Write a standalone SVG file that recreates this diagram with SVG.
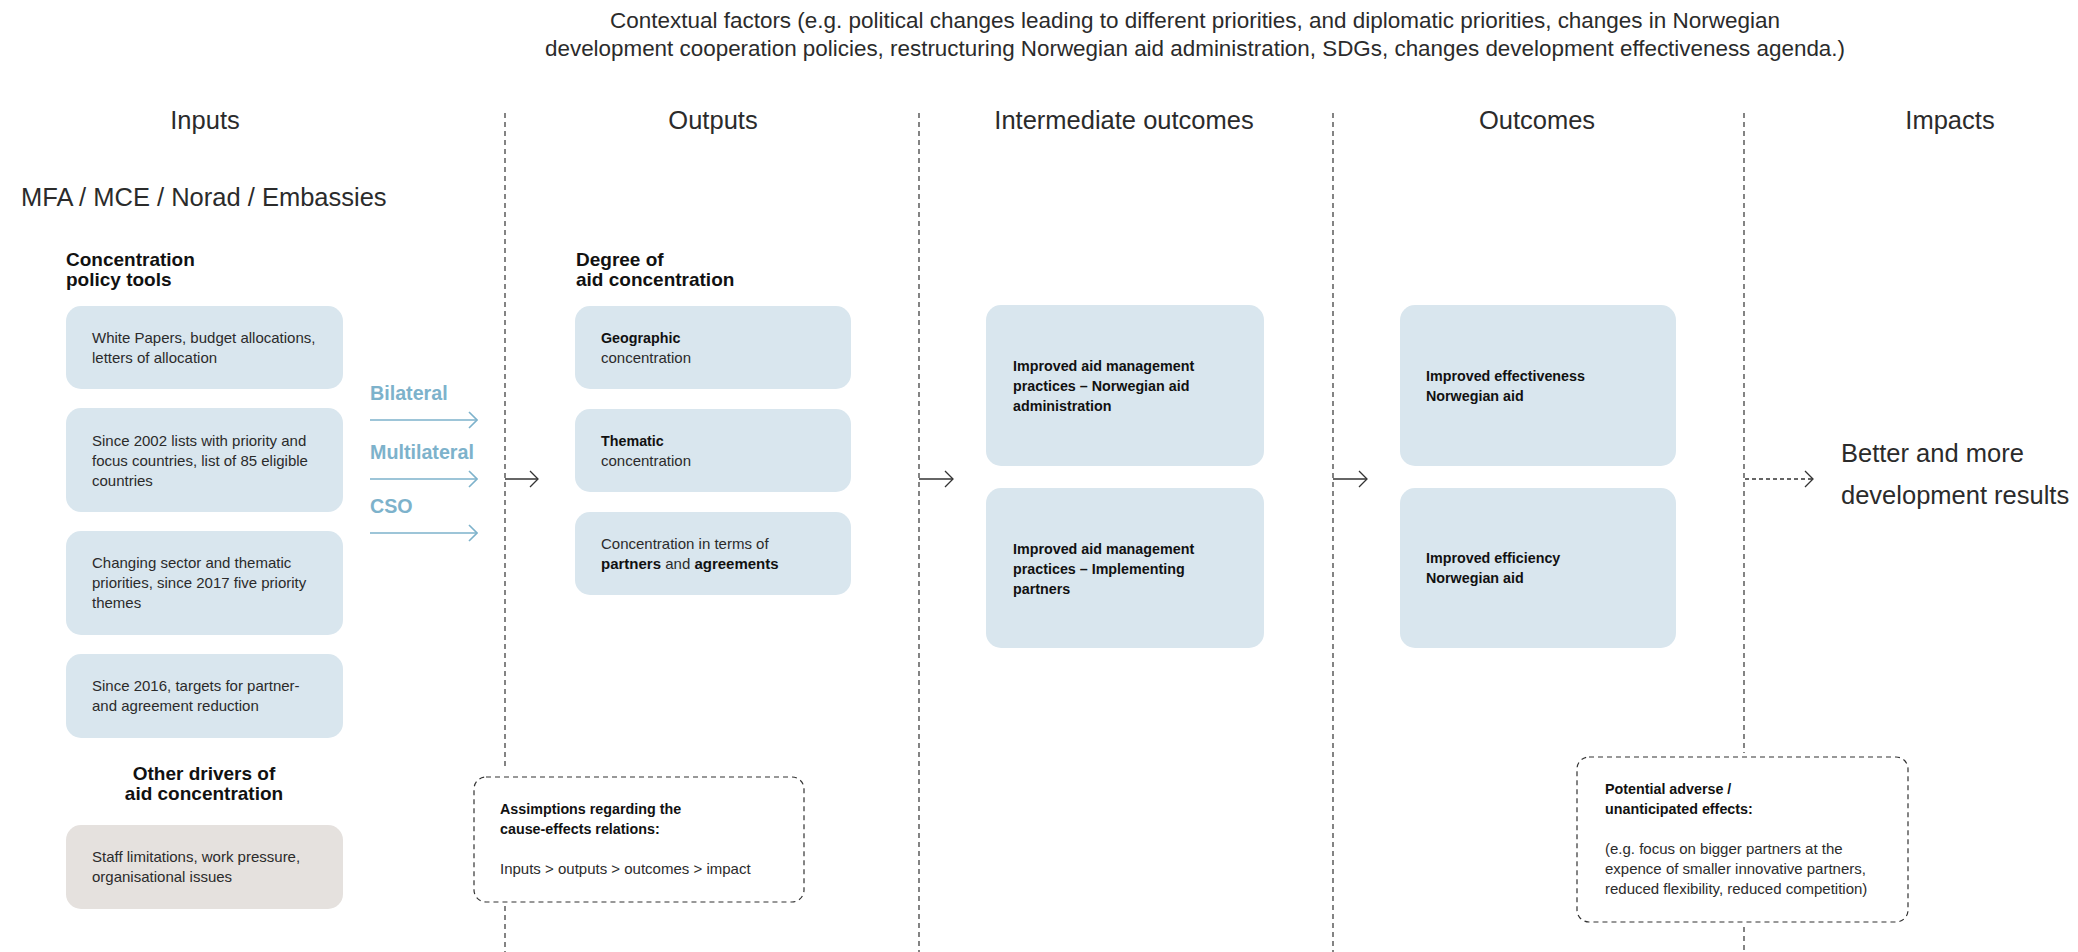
<svg xmlns="http://www.w3.org/2000/svg" width="2078" height="952" viewBox="0 0 2078 952">
  <style>
    text { font-family: "Liberation Sans", Arial, sans-serif; fill: #2b2b2b; }
    .ctx { font-size: 22px; text-anchor: middle; }
    .hdr { font-size: 25.5px; text-anchor: middle; }
    .big { font-size: 25.5px; }
    .sec { font-size: 19px; font-weight: bold; fill: #111; }
    .t { font-size: 15px; }
    .b { font-size: 14.3px; font-weight: bold; fill: #111; }
    .chan { font-size: 19.7px; font-weight: bold; fill: #7db2cb; }
    .box { fill: #d9e6ee; }
    .box2 { fill: #e5e1de; }
    .dbox { fill: none; stroke: #333; stroke-width: 1.2; stroke-dasharray: 5 4; }
    .col { stroke: #333; stroke-width: 1.2; stroke-dasharray: 5 4; fill: none; }
    .ablue { stroke: #7db2cb; stroke-width: 1.6; fill: none; }
    .ablk { stroke: #333; stroke-width: 1.3; fill: none; }
    .adash { stroke: #333; stroke-width: 1.3; fill: none; stroke-dasharray: 4 3; }
  </style>
  <defs>
    <marker id="hBlue" markerUnits="userSpaceOnUse" viewBox="0 0 10 18" refX="9" refY="9" markerWidth="10" markerHeight="18" orient="auto">
      <path d="M1,1 L9,9 L1,17" fill="none" stroke="#7db2cb" stroke-width="1.6"/>
    </marker>
    <marker id="hBlk" markerUnits="userSpaceOnUse" viewBox="0 0 10 18" refX="9" refY="9" markerWidth="10" markerHeight="18" orient="auto">
      <path d="M1,1 L9,9 L1,17" fill="none" stroke="#333" stroke-width="1.3"/>
    </marker>
  </defs>

  <rect width="2078" height="952" fill="#ffffff"/>

  <!-- context note -->
  <g id="context">
    <text class="ctx" x="1195" y="28" textLength="1170" lengthAdjust="spacingAndGlyphs">Contextual factors (e.g. political changes leading to different priorities, and diplomatic priorities, changes in Norwegian</text>
    <text class="ctx" x="1195" y="56" textLength="1300" lengthAdjust="spacingAndGlyphs">development cooperation policies, restructuring Norwegian aid administration, SDGs, changes development effectiveness agenda.)</text>
  </g>

  <!-- column headings -->
  <g id="headers">
    <text class="hdr" x="205" y="129">Inputs</text>
    <text class="hdr" x="713" y="129">Outputs</text>
    <text class="hdr" x="1124" y="129">Intermediate outcomes</text>
    <text class="hdr" x="1537" y="129">Outcomes</text>
    <text class="hdr" x="1950" y="129">Impacts</text>
  </g>

  <!-- column separators -->
  <g id="separators">
    <line class="col" x1="505" y1="113" x2="505" y2="770"/>
    <line class="col" x1="505" y1="906" x2="505" y2="952"/>
    <line class="col" x1="919" y1="113" x2="919" y2="952"/>
    <line class="col" x1="1333" y1="113" x2="1333" y2="952"/>
    <line class="col" x1="1744" y1="113" x2="1744" y2="753"/>
    <line class="col" x1="1744" y1="927" x2="1744" y2="952"/>
  </g>

  <g id="actors">
    <text class="big" x="21" y="206">MFA / MCE / Norad / Embassies</text>
  </g>

  <!-- inputs -->
  <g id="inputs-title">
    <text class="sec" x="66" y="266">Concentration</text>
    <text class="sec" x="66" y="286">policy tools</text>
  </g>
  <g id="in-white-papers">
    <rect class="box" x="66" y="306" width="277" height="83" rx="15"/>
    <text class="t" x="92" y="343">White Papers, budget allocations,</text>
    <text class="t" x="92" y="363">letters of allocation</text>
  </g>
  <g id="in-country-lists">
    <rect class="box" x="66" y="408" width="277" height="104" rx="15"/>
    <text class="t" x="92" y="446">Since 2002 lists with priority and</text>
    <text class="t" x="92" y="466">focus countries, list of 85 eligible</text>
    <text class="t" x="92" y="486">countries</text>
  </g>
  <g id="in-thematic">
    <rect class="box" x="66" y="531" width="277" height="104" rx="15"/>
    <text class="t" x="92" y="568">Changing sector and thematic</text>
    <text class="t" x="92" y="588">priorities, since 2017 five priority</text>
    <text class="t" x="92" y="608">themes</text>
  </g>
  <g id="in-targets">
    <rect class="box" x="66" y="654" width="277" height="84" rx="15"/>
    <text class="t" x="92" y="691">Since 2016, targets for partner-</text>
    <text class="t" x="92" y="711">and agreement reduction</text>
  </g>
  <g id="other-drivers-title">
    <text class="sec" x="204" y="780" text-anchor="middle">Other drivers of</text>
    <text class="sec" x="204" y="800" text-anchor="middle">aid concentration</text>
  </g>
  <g id="in-staff">
    <rect class="box2" x="66" y="825" width="277" height="84" rx="15"/>
    <text class="t" x="92" y="862">Staff limitations, work pressure,</text>
    <text class="t" x="92" y="882">organisational issues</text>
  </g>

  <!-- channels -->
  <g id="channels">
    <text class="chan" x="370" y="400">Bilateral</text>
    <text class="chan" x="370" y="459">Multilateral</text>
    <text class="chan" x="370" y="513">CSO</text>
  </g>

  <!-- outputs -->
  <g id="outputs-title">
    <text class="sec" x="576" y="266">Degree of</text>
    <text class="sec" x="576" y="286">aid concentration</text>
  </g>
  <g id="out-geographic">
    <rect class="box" x="575" y="306" width="276" height="83" rx="15"/>
    <text class="b" x="601" y="343">Geographic</text>
    <text class="t" x="601" y="363">concentration</text>
  </g>
  <g id="out-thematic">
    <rect class="box" x="575" y="409" width="276" height="83" rx="15"/>
    <text class="b" x="601" y="446">Thematic</text>
    <text class="t" x="601" y="466">concentration</text>
  </g>
  <g id="out-partners">
    <rect class="box" x="575" y="512" width="276" height="83" rx="15"/>
    <text class="t" x="601" y="549">Concentration in terms of</text>
    <text class="t" x="601" y="569"><tspan font-weight="bold" fill="#111">partners</tspan> and <tspan font-weight="bold" fill="#111">agreements</tspan></text>
  </g>

  <g id="assumptions">
    <rect class="dbox" x="474" y="777" width="330" height="125" rx="12"/>
    <text class="b" x="500" y="814">Assimptions regarding the</text>
    <text class="b" x="500" y="834">cause-effects relations:</text>
    <text class="t" x="500" y="874" font-size="14.6">Inputs &gt; outputs &gt; outcomes &gt; impact</text>
  </g>

  <!-- intermediate outcomes -->
  <g id="int-admin">
    <rect class="box" x="986" y="305" width="278" height="161" rx="15"/>
    <text class="b" x="1013" y="371">Improved aid management</text>
    <text class="b" x="1013" y="391">practices – Norwegian aid</text>
    <text class="b" x="1013" y="411">administration</text>
  </g>
  <g id="int-partners">
    <rect class="box" x="986" y="488" width="278" height="160" rx="15"/>
    <text class="b" x="1013" y="554">Improved aid management</text>
    <text class="b" x="1013" y="574">practices – Implementing</text>
    <text class="b" x="1013" y="594">partners</text>
  </g>

  <!-- outcomes -->
  <g id="oc-effectiveness">
    <rect class="box" x="1400" y="305" width="276" height="161" rx="15"/>
    <text class="b" x="1426" y="381">Improved effectiveness</text>
    <text class="b" x="1426" y="401">Norwegian aid</text>
  </g>
  <g id="oc-efficiency">
    <rect class="box" x="1400" y="488" width="276" height="160" rx="15"/>
    <text class="b" x="1426" y="563">Improved efficiency</text>
    <text class="b" x="1426" y="583">Norwegian aid</text>
  </g>

  <g id="adverse-effects">
    <rect class="dbox" x="1577" y="757" width="331" height="165" rx="12"/>
    <text class="b" x="1605" y="794" font-size="15">Potential adverse /</text>
    <text class="b" x="1605" y="814" font-size="15">unanticipated effects:</text>
    <text class="t" x="1605" y="854">(e.g. focus on bigger partners at the</text>
    <text class="t" x="1605" y="874">expence of smaller innovative partners,</text>
    <text class="t" x="1605" y="894">reduced flexibility, reduced competition)</text>
  </g>

  <!-- impacts -->
  <g id="impact">
    <text class="big" x="1841" y="462">Better and more</text>
    <text class="big" x="1841" y="504">development results</text>
  </g>

  <!-- connectors -->
  <g id="connectors">
    <line class="ablue" x1="370" y1="420" x2="477" y2="420" marker-end="url(#hBlue)"/>
    <line class="ablue" x1="370" y1="479" x2="477" y2="479" marker-end="url(#hBlue)"/>
    <line class="ablue" x1="370" y1="533" x2="477" y2="533" marker-end="url(#hBlue)"/>
    <line class="ablk" x1="505" y1="479" x2="538" y2="479" marker-end="url(#hBlk)"/>
    <line class="ablk" x1="919" y1="479" x2="953" y2="479" marker-end="url(#hBlk)"/>
    <line class="ablk" x1="1333" y1="479" x2="1367" y2="479" marker-end="url(#hBlk)"/>
    <line class="adash" x1="1745" y1="479" x2="1813" y2="479" marker-end="url(#hBlk)"/>
  </g>
</svg>
